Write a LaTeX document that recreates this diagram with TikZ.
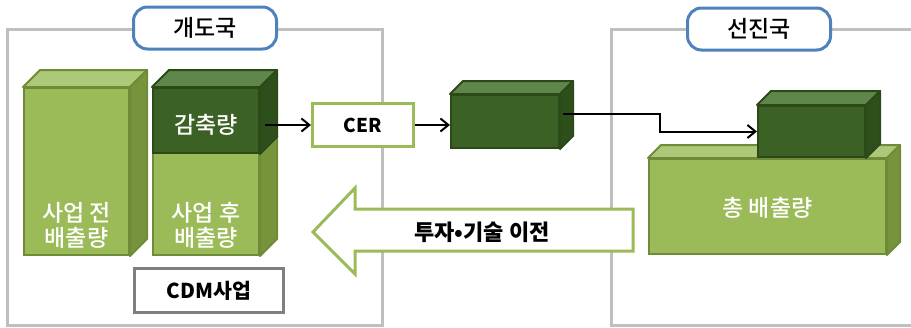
\documentclass[tikz,border=0pt]{standalone}
\usepackage{fontspec}
\setmainfont{Noto Sans CJK KR}
\newfontfamily\medfont{Noto Sans CJK KR Medium}
\usetikzlibrary{arrows.meta,calc}

\definecolor{frameGray}{HTML}{BFBFBF}
\definecolor{pillBlue}{HTML}{4F81BD}
\definecolor{olive}{HTML}{9BBB59}
\definecolor{oliveTop}{HTML}{ADC878}
\definecolor{oliveSide}{HTML}{77933C}
\definecolor{oliveLine}{HTML}{6E8B37}
\definecolor{forest}{HTML}{3B6224}
\definecolor{forestTop}{HTML}{5F874C}
\definecolor{forestSide}{HTML}{2C4F1B}
\definecolor{forestLine}{HTML}{2B4A18}
\definecolor{cdmGray}{HTML}{7F7F7F}

% top and right faces of a box whose front face is node #1
% #2 depth, #3 top colour, #4 side colour, #5 edge colour
\newcommand\cubetop[5]{%
  \filldraw[fill=#3,draw=#5,line width=2pt,line join=round]
    (#1.north west) -- ([shift={(#2,-#2)}]#1.north west)
    -- ([shift={(#2,-#2)}]#1.north east) -- (#1.north east) -- cycle;}
\newcommand\cubeside[5]{%
  \filldraw[fill=#4,draw=#5,line width=2pt,line join=round]
    (#1.north east) -- ([shift={(#2,-#2)}]#1.north east)
    -- ([shift={(#2,-#2)}]#1.south east) -- (#1.south east) -- cycle;}

\tikzset{
  frame/.style={draw=frameGray,line width=3pt},
  pill/.style={draw=pillBlue,fill=white,line width=3pt,rounded corners=14pt,
    minimum width=143pt,minimum height=42pt,inner sep=0pt,font=\medfont\fontsize{23}{26}\selectfont},
  lightface/.style={fill=olive,draw=oliveLine,line width=2pt,inner sep=0pt},
  darkface/.style={fill=forest,draw=forestLine,line width=2pt,inner sep=0pt},
  whitetxt/.style={text=white,align=center,inner sep=0pt,font=\medfont\fontsize{23}{25}\selectfont},
  cerbox/.style={draw=olive,fill=white,line width=3pt,minimum width=101pt,minimum height=43pt,
    inner sep=0pt,font=\bfseries\fontsize{19}{22}\selectfont},
  cdmbox/.style={draw=cdmGray,fill=white,line width=3pt,minimum width=149pt,minimum height=44pt,
    inner sep=0pt,font=\bfseries\fontsize{20.5}{23}\selectfont},
  conn/.style={line width=2pt,-{Straight Barb[length=8pt,width=13pt,line width=2pt]}},
  bigarrow/.style={draw=olive,fill=white,line width=3pt,line join=miter},
}

\begin{document}
\begin{tikzpicture}[x=1pt,y=-1pt]
\useasboundingbox (0,0) rectangle (911,327);

% country frames
\draw[frame] (7,29) rectangle (382,325);
\draw[frame] (915,29) -- (611,29) -- (611,325) -- (915,325);
\node[pill] (dev) at (205,28) {개도국};
\node[pill] (adv) at (759,29) {선진국};

% emissions before the project
\node[lightface,minimum width=105pt,minimum height=167pt] (pre) at (76.5,171.5) {};
\cubetop{pre}{17}{oliveTop}{oliveSide}{oliveLine}
\cubeside{pre}{17}{oliveTop}{oliveSide}{oliveLine}
\node[whitetxt] (preL) at (76.5,225) {사업 전\\배출량};

% emissions after the project, with the reduction on top
\node[lightface,minimum width=106pt,minimum height=102pt] (post) at (206,204) {};
\cubeside{post}{17}{oliveTop}{oliveSide}{oliveLine}
\node[darkface,minimum width=106pt,minimum height=65pt] (gam) at (206,120.5) {};
\cubetop{gam}{17}{forestTop}{forestSide}{forestLine}
\cubeside{gam}{17}{forestTop}{forestSide}{forestLine}
\node[whitetxt] (gamL) at (206,125) {감축량};
\node[whitetxt] (postL) at (206,225) {사업 후\\배출량};

\node[cdmbox] (cdm) at (209,290.5) {CDM사업};

% credits
\node[cerbox] (cer) at (363,125) {CER};
\node[darkface,minimum width=108pt,minimum height=53pt] (credit) at (505,121.5) {};
\cubetop{credit}{13}{forestTop}{forestSide}{forestLine}
\cubeside{credit}{13}{forestTop}{forestSide}{forestLine}

% total emissions of the developed country
\node[lightface,minimum width=237pt,minimum height=95pt] (total) at (767.5,206.5) {};
\cubetop{total}{13}{oliveTop}{oliveSide}{oliveLine}
\cubeside{total}{13}{oliveTop}{oliveSide}{oliveLine}
\node[whitetxt] (totalL) at (767.5,208) {총 배출량};
\node[darkface,minimum width=107pt,minimum height=51pt] (held) at (811.5,131.5) {};
\cubetop{held}{14}{forestTop}{forestSide}{forestLine}
\cubeside{held}{14}{forestTop}{forestSide}{forestLine}

% connectors
\draw[conn] ($(gam.east |- cer.west)+(5,0)$) -- (cer.west);
\draw[conn] (cer.east) -- (cer.east -| credit.west);
\coordinate (bend) at (660,0);
\coordinate (out) at ($(credit.east)+(3,-8)$);
\draw[conn] (out) -- (out -| bend) |- (held.west);

% investment and technology transfer
\filldraw[bigarrow] (313,232) -- (355,188) -- (355,209) -- (633,209)
  -- (633,251) -- (355,251) -- (355,274) -- cycle;
\node[font=\bfseries\fontsize{22}{25}\selectfont,inner sep=0pt] (transfer) at (482,232) {투자•기술 이전};
\end{tikzpicture}
\end{document}
